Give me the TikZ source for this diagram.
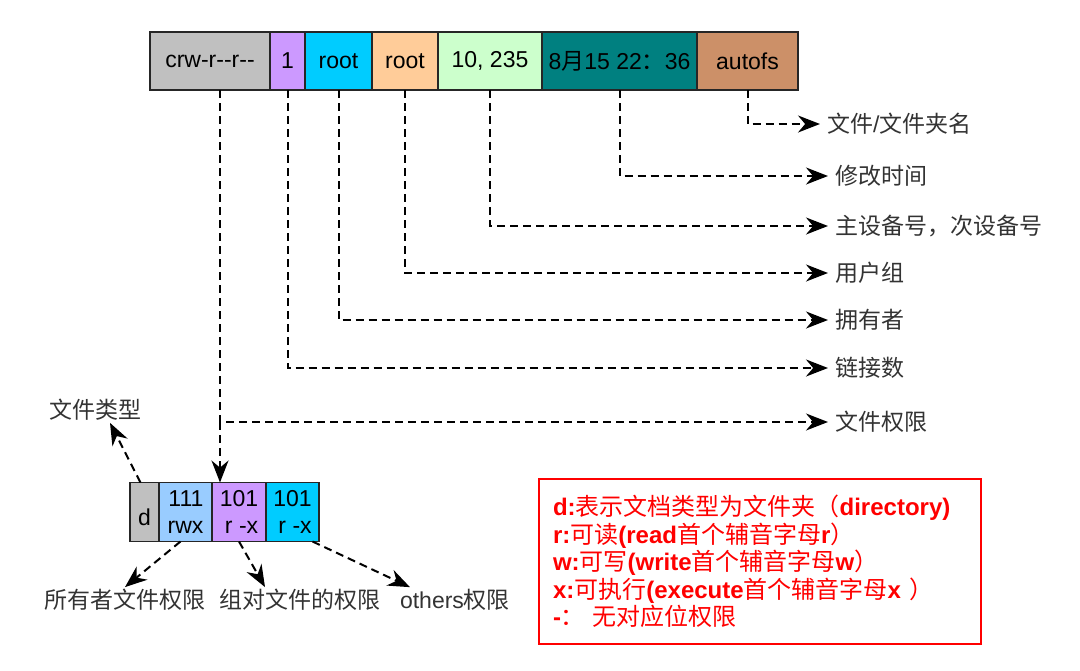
\documentclass[tikz,border=0pt]{standalone}
\usepackage{fontspec}
\setmainfont{Liberation Sans}
\newfontfamily\cjk{Noto Sans CJK SC}
\newcommand{\zh}[1]{{\cjk\mdseries #1}}
\usetikzlibrary{positioning, arrows.meta}
\definecolor{cgray}{RGB}{192,192,192}
\definecolor{cpurple}{RGB}{204,153,255}
\definecolor{ccyan}{RGB}{0,204,255}
\definecolor{corange}{RGB}{255,204,153}
\definecolor{cgreen}{RGB}{204,255,204}
\definecolor{cteal}{RGB}{0,128,128}
\definecolor{cbrown}{RGB}{204,144,104}
\definecolor{cblue}{RGB}{153,204,255}
\tikzstyle{cell} = [draw=black!85, line width=1.5pt, outer sep=0pt, minimum height=58pt, inner sep=0pt, font=\fontsize{23}{26}\selectfont]
\tikzstyle{bit} = [draw=black!85, line width=1.5pt, outer sep=0pt, minimum height=59pt, inner xsep=3pt, align=right, font=\fontsize{23}{27}\selectfont]
\tikzstyle{lbl} = [anchor=west, inner sep=0pt, inner xsep=7pt, font=\fontsize{23}{26}\selectfont, text=black!80]
\tikzstyle{sub} = [inner sep=2pt, font=\fontsize{23}{26}\selectfont, text=black!80]
\tikzstyle{legend} = [draw=red, line width=2pt, text=red, align=left, font=\bfseries\fontsize{24}{27.5}\selectfont, minimum width=442pt, minimum height=165pt, text width=414pt, inner xsep=14pt]
\tikzstyle{arrow} = [-{Stealth[length=22pt,width=17pt]}, line width=2pt, dash pattern=on 8pt off 5pt]

\begin{document}
\begin{tikzpicture}[x=1pt, y=-1pt]
    \useasboundingbox (0,0) rectangle (1080,670);

    % ls -l line
    \node[cell, fill=cgray, minimum width=120pt] (mode) at (210,61) {crw{-}r{-}{-}r{-}{-}};
    \node[cell, fill=cpurple, minimum width=35pt, right=0pt of mode] (links) {1};
    \node[cell, fill=ccyan, minimum width=67pt, right=0pt of links] (user) {root};
    \node[cell, fill=corange, minimum width=66pt, right=0pt of user] (grp) {root};
    \node[cell, fill=cgreen, minimum width=104pt, right=0pt of grp] (dev) {10, 235};
    \node[cell, fill=cteal, minimum width=155pt, right=0pt of dev] (date) {8\zh{月}15 22\zh{：}36};
    \node[cell, fill=cbrown, minimum width=101pt, right=0pt of date] (name) {autofs};

    % meanings
    \node[lbl] (fname) at (820,124) {\zh{文件}/\zh{文件夹名}};
    \node[lbl] (mtime) at (828,176) {\zh{修改时间}};
    \node[lbl] (devno) at (828,226) {\zh{主设备号，次设备号}};
    \node[lbl] (group) at (828,273) {\zh{用户组}};
    \node[lbl] (owner) at (828,320) {\zh{拥有者}};
    \node[lbl] (nlink) at (828,368) {\zh{链接数}};
    \node[lbl] (perm) at (828,422) {\zh{文件权限}};

    \draw[arrow] (name.south) |- (fname.west);
    \draw[arrow] (date.south) |- (mtime.west);
    \draw[arrow] (dev.south) |- (devno.west);
    \draw[arrow] (grp.south) |- (group.west);
    \draw[arrow] (user.south) |- (owner.west);
    \draw[arrow] (links.south) |- (nlink.west);
    \draw[arrow] ([xshift=10pt]mode.south) |- (perm.west);

    % permission bits
    \node[bit, fill=cgray, minimum width=29pt] (d) at (144.5,512) {\mbox{}\\d};
    \node[bit, fill=cblue, minimum width=53pt, right=0pt of d] (rwx) {111\\rwx};
    \node[bit, fill=cpurple, minimum width=54pt, right=0pt of rwx] (gp) {101\\r -x};
    \node[bit, fill=ccyan, minimum width=53pt, right=0pt of gp] (ot) {101\\r -x};

    \coordinate (fork) at ([xshift=10pt]mode.south |- perm.west);
    \draw[arrow] (fork) -- (fork |- gp.north);

    \node[sub] (type) at (95,410) {\zh{文件类型}};
    \node[sub] (own) at (125,600) {\zh{所有者文件权限}};
    \node[sub] (grpl) at (300,600) {\zh{组对文件的权限}};
    \node[sub] (othl) at (455,600) {others\zh{权限}};

    \draw[arrow] ([xshift=-4pt]d.north) -- ([xshift=15pt]type.south);
    \draw[arrow] ([xshift=-5pt]rwx.south) -- (own.north);
    \draw[arrow] (gp.south) -- ([xshift=-35pt]grpl.north);
    \draw[arrow] ([xshift=20pt]ot.south) -- ([xshift=-45pt]othl.north);

    % legend
    \node[legend, anchor=north west] (note) at (538,478) {%
        d:\zh{表示文档类型为文件夹（}directory)\\
        r:\zh{可读}(read\zh{首个辅音字母}r\zh{）}\\
        w:\zh{可写}(write\zh{首个辅音字母}w\zh{）}\\
        x:\zh{可执行}(execute\zh{首个辅音字母}x \zh{）}\\
        -\zh{：}\ \zh{无对应位权限}};

\end{tikzpicture}
\end{document}
